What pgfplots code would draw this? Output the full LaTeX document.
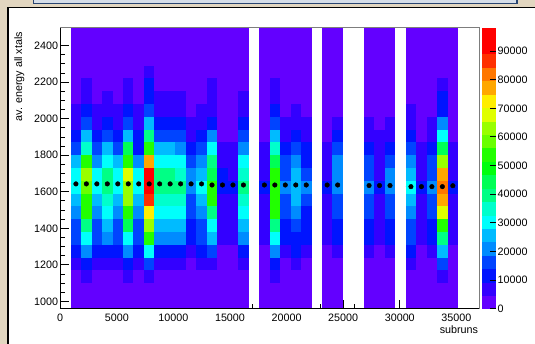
\documentclass[border=0pt]{standalone}
\usepackage{fontspec}
\setmainfont{Liberation Sans}
\usepackage{pgfplots}
\usepackage{pgfplotstable}
\pgfplotsset{compat=1.18}

\definecolor{bgbeige}{RGB}{226,214,192}
\definecolor{barfill}{RGB}{213,221,232}
\definecolor{barnavy}{RGB}{40,68,112}
\definecolor{framegray}{RGB}{125,125,125}

% one histogram bin (925 subruns x 70 energy units at this axis scale)
\pgfdeclareplotmark{binrect}{%
  \pgfpathrectangle{\pgfpoint{-5.27bp}{-6.43bp}}{\pgfpoint{10.54bp}{12.86bp}}%
  \pgfusepathqfill}

% ROOT "pretty" palette, 20 contour levels (last entry closes the top interval)
\pgfplotsset{
  colormap={rootpretty}{
    rgb255=(99,0,255) rgb255=(51,0,255) rgb255=(0,20,255) rgb255=(0,68,255)
    rgb255=(0,139,255) rgb255=(0,187,255) rgb255=(0,255,252) rgb255=(0,255,204)
    rgb255=(0,255,133) rgb255=(0,255,85) rgb255=(0,255,14) rgb255=(34,255,0)
    rgb255=(105,255,0) rgb255=(153,255,0) rgb255=(224,255,0) rgb255=(255,238,0)
    rgb255=(255,167,0) rgb255=(255,119,0) rgb255=(255,48,0) rgb255=(255,0,0)
    rgb255=(255,0,0)
  },
  every axis/.append style={font=\fontsize{10.8}{13}\selectfont},
  /pgf/number format/.cd, 1000 sep={}, assume math mode=true,
}

% energy per (subrun bin, energy bin): x = bin centre, y = bin centre, c = entries
\pgfplotstableread{
x y c
1387.5 995 1200
1387.5 1065 1200
1387.5 1135 1200
1387.5 1205 7400
1387.5 1275 12300
1387.5 1345 17200
1387.5 1415 17200
1387.5 1485 22100
1387.5 1555 27000
1387.5 1625 32000
1387.5 1695 32000
1387.5 1765 27000
1387.5 1835 17200
1387.5 1905 12300
1387.5 1975 7400
1387.5 2045 7400
1387.5 2115 1200
1387.5 2185 1200
1387.5 2255 1200
1387.5 2325 1200
1387.5 2395 1200
1387.5 2465 1200
2312.5 995 1200
2312.5 1065 1200
2312.5 1135 7400
2312.5 1205 12300
2312.5 1275 22100
2312.5 1345 32000
2312.5 1415 41800
2312.5 1485 51600
2312.5 1555 51600
2312.5 1625 56500
2312.5 1695 61400
2312.5 1765 51600
2312.5 1835 36900
2312.5 1905 27000
2312.5 1975 17200
2312.5 2045 12300
2312.5 2115 7400
2312.5 2185 7400
2312.5 2255 1200
2312.5 2325 1200
2312.5 2395 1200
2312.5 2465 1200
3237.5 995 1200
3237.5 1065 1200
3237.5 1135 1200
3237.5 1205 7400
3237.5 1275 12300
3237.5 1345 17200
3237.5 1415 17200
3237.5 1485 22100
3237.5 1555 27000
3237.5 1625 32000
3237.5 1695 32000
3237.5 1765 22100
3237.5 1835 17200
3237.5 1905 12300
3237.5 1975 7400
3237.5 2045 7400
3237.5 2115 1200
3237.5 2185 1200
3237.5 2255 1200
3237.5 2325 1200
3237.5 2395 1200
3237.5 2465 1200
4162.5 995 1200
4162.5 1065 1200
4162.5 1135 1200
4162.5 1205 7400
4162.5 1275 12300
4162.5 1345 22100
4162.5 1415 27000
4162.5 1485 32000
4162.5 1555 36900
4162.5 1625 41800
4162.5 1695 41800
4162.5 1765 32000
4162.5 1835 27000
4162.5 1905 17200
4162.5 1975 12300
4162.5 2045 7400
4162.5 2115 7400
4162.5 2185 1200
4162.5 2255 1200
4162.5 2325 1200
4162.5 2395 1200
4162.5 2465 1200
5087.5 995 1200
5087.5 1065 1200
5087.5 1135 1200
5087.5 1205 7400
5087.5 1275 12300
5087.5 1345 17200
5087.5 1415 17200
5087.5 1485 22100
5087.5 1555 27000
5087.5 1625 32000
5087.5 1695 32000
5087.5 1765 27000
5087.5 1835 17200
5087.5 1905 12300
5087.5 1975 7400
5087.5 2045 7400
5087.5 2115 1200
5087.5 2185 1200
5087.5 2255 1200
5087.5 2325 1200
5087.5 2395 1200
5087.5 2465 1200
6012.5 995 1200
6012.5 1065 1200
6012.5 1135 7400
6012.5 1205 12300
6012.5 1275 22100
6012.5 1345 32000
6012.5 1415 46700
6012.5 1485 51600
6012.5 1555 61400
6012.5 1625 61400
6012.5 1695 66400
6012.5 1765 51600
6012.5 1835 46700
6012.5 1905 27000
6012.5 1975 17200
6012.5 2045 12300
6012.5 2115 7400
6012.5 2185 7400
6012.5 2255 1200
6012.5 2325 1200
6012.5 2395 1200
6012.5 2465 1200
6937.5 995 1200
6937.5 1065 1200
6937.5 1135 1200
6937.5 1205 7400
6937.5 1275 12300
6937.5 1345 17200
6937.5 1415 17200
6937.5 1485 22100
6937.5 1555 27000
6937.5 1625 32000
6937.5 1695 32000
6937.5 1765 22100
6937.5 1835 12300
6937.5 1905 12300
6937.5 1975 7400
6937.5 2045 7400
6937.5 2115 1200
6937.5 2185 1200
6937.5 2255 1200
6937.5 2325 1200
6937.5 2395 1200
6937.5 2465 1200
7862.5 995 1200
7862.5 1065 1200
7862.5 1135 7400
7862.5 1205 17200
7862.5 1275 32000
7862.5 1345 51600
7862.5 1415 61400
7862.5 1485 71300
7862.5 1555 86000
7862.5 1625 98300
7862.5 1695 90900
7862.5 1765 76200
7862.5 1835 51600
7862.5 1905 41800
7862.5 1975 27000
7862.5 2045 17200
7862.5 2115 12300
7862.5 2185 12300
7862.5 2255 7400
7862.5 2325 1200
7862.5 2395 1200
7862.5 2465 1200
8787.5 995 1200
8787.5 1065 1200
8787.5 1135 1200
8787.5 1205 7400
8787.5 1275 12300
8787.5 1345 22100
8787.5 1415 27000
8787.5 1485 32000
8787.5 1555 36900
8787.5 1625 41800
8787.5 1695 41800
8787.5 1765 32000
8787.5 1835 27000
8787.5 1905 17200
8787.5 1975 12300
8787.5 2045 7400
8787.5 2115 7400
8787.5 2185 1200
8787.5 2255 1200
8787.5 2325 1200
8787.5 2395 1200
8787.5 2465 1200
9712.5 995 1200
9712.5 1065 1200
9712.5 1135 1200
9712.5 1205 7400
9712.5 1275 12300
9712.5 1345 22100
9712.5 1415 27000
9712.5 1485 32000
9712.5 1555 36900
9712.5 1625 41800
9712.5 1695 41800
9712.5 1765 32000
9712.5 1835 27000
9712.5 1905 17200
9712.5 1975 12300
9712.5 2045 7400
9712.5 2115 7400
9712.5 2185 1200
9712.5 2255 1200
9712.5 2325 1200
9712.5 2395 1200
9712.5 2465 1200
10637.5 995 1200
10637.5 1065 1200
10637.5 1135 1200
10637.5 1205 7400
10637.5 1275 12300
10637.5 1345 22100
10637.5 1415 27000
10637.5 1485 32000
10637.5 1555 36900
10637.5 1625 41800
10637.5 1695 36900
10637.5 1765 32000
10637.5 1835 22100
10637.5 1905 17200
10637.5 1975 12300
10637.5 2045 7400
10637.5 2115 7400
10637.5 2185 1200
10637.5 2255 1200
10637.5 2325 1200
10637.5 2395 1200
10637.5 2465 1200
11562.5 995 1200
11562.5 1065 1200
11562.5 1135 1200
11562.5 1205 1200
11562.5 1275 7400
11562.5 1345 12300
11562.5 1415 12300
11562.5 1485 17200
11562.5 1555 17200
11562.5 1625 22100
11562.5 1695 22100
11562.5 1765 17200
11562.5 1835 12300
11562.5 1905 7400
11562.5 1975 7400
11562.5 2045 1200
11562.5 2115 1200
11562.5 2185 1200
11562.5 2255 1200
11562.5 2325 1200
11562.5 2395 1200
11562.5 2465 1200
12487.5 995 1200
12487.5 1065 1200
12487.5 1135 1200
12487.5 1205 7400
12487.5 1275 12300
12487.5 1345 17200
12487.5 1415 17200
12487.5 1485 22100
12487.5 1555 27000
12487.5 1625 32000
12487.5 1695 27000
12487.5 1765 22100
12487.5 1835 17200
12487.5 1905 12300
12487.5 1975 7400
12487.5 2045 7400
12487.5 2115 1200
12487.5 2185 1200
12487.5 2255 1200
12487.5 2325 1200
12487.5 2395 1200
12487.5 2465 1200
13412.5 995 1200
13412.5 1065 1200
13412.5 1135 1200
13412.5 1205 7400
13412.5 1275 17200
13412.5 1345 27000
13412.5 1415 32000
13412.5 1485 41800
13412.5 1555 51600
13412.5 1625 51600
13412.5 1695 46700
13412.5 1765 41800
13412.5 1835 32000
13412.5 1905 22100
13412.5 1975 12300
13412.5 2045 7400
13412.5 2115 7400
13412.5 2185 7400
13412.5 2255 1200
13412.5 2325 1200
13412.5 2395 1200
13412.5 2465 1200
14337.5 995 1200
14337.5 1065 1200
14337.5 1135 1200
14337.5 1205 1200
14337.5 1275 1200
14337.5 1345 7400
14337.5 1415 7400
14337.5 1485 7400
14337.5 1555 7400
14337.5 1625 12300
14337.5 1695 12300
14337.5 1765 7400
14337.5 1835 7400
14337.5 1905 1200
14337.5 1975 1200
14337.5 2045 1200
14337.5 2115 1200
14337.5 2185 1200
14337.5 2255 1200
14337.5 2325 1200
14337.5 2395 1200
14337.5 2465 1200
15262.5 995 1200
15262.5 1065 1200
15262.5 1135 1200
15262.5 1205 1200
15262.5 1275 1200
15262.5 1345 7400
15262.5 1415 7400
15262.5 1485 7400
15262.5 1555 7400
15262.5 1625 12300
15262.5 1695 7400
15262.5 1765 7400
15262.5 1835 7400
15262.5 1905 1200
15262.5 1975 1200
15262.5 2045 1200
15262.5 2115 1200
15262.5 2185 1200
15262.5 2255 1200
15262.5 2325 1200
15262.5 2395 1200
15262.5 2465 1200
16187.5 995 1200
16187.5 1065 1200
16187.5 1135 1200
16187.5 1205 7400
16187.5 1275 12300
16187.5 1345 22100
16187.5 1415 27000
16187.5 1485 32000
16187.5 1555 36900
16187.5 1625 41800
16187.5 1695 36900
16187.5 1765 32000
16187.5 1835 22100
16187.5 1905 17200
16187.5 1975 12300
16187.5 2045 7400
16187.5 2115 7400
16187.5 2185 1200
16187.5 2255 1200
16187.5 2325 1200
16187.5 2395 1200
16187.5 2465 1200
}\blockA

\pgfplotstableread{
x y c
18037.5 995 1200
18037.5 1065 1200
18037.5 1135 1200
18037.5 1205 1200
18037.5 1275 1200
18037.5 1345 7400
18037.5 1415 7400
18037.5 1485 7400
18037.5 1555 7400
18037.5 1625 12300
18037.5 1695 7400
18037.5 1765 7400
18037.5 1835 7400
18037.5 1905 1200
18037.5 1975 1200
18037.5 2045 1200
18037.5 2115 1200
18037.5 2185 1200
18037.5 2255 1200
18037.5 2325 1200
18037.5 2395 1200
18037.5 2465 1200
18962.5 995 1200
18962.5 1065 1200
18962.5 1135 7400
18962.5 1205 12300
18962.5 1275 22100
18962.5 1345 32000
18962.5 1415 41800
18962.5 1485 51600
18962.5 1555 51600
18962.5 1625 51600
18962.5 1695 51600
18962.5 1765 46700
18962.5 1835 36900
18962.5 1905 27000
18962.5 1975 17200
18962.5 2045 12300
18962.5 2115 7400
18962.5 2185 7400
18962.5 2255 1200
18962.5 2325 1200
18962.5 2395 1200
18962.5 2465 1200
19887.5 995 1200
19887.5 1065 1200
19887.5 1135 1200
19887.5 1205 1200
19887.5 1275 7400
19887.5 1345 12300
19887.5 1415 12300
19887.5 1485 17200
19887.5 1555 17200
19887.5 1625 22100
19887.5 1695 17200
19887.5 1765 17200
19887.5 1835 12300
19887.5 1905 7400
19887.5 1975 7400
19887.5 2045 1200
19887.5 2115 1200
19887.5 2185 1200
19887.5 2255 1200
19887.5 2325 1200
19887.5 2395 1200
19887.5 2465 1200
20812.5 995 1200
20812.5 1065 1200
20812.5 1135 1200
20812.5 1205 7400
20812.5 1275 12300
20812.5 1345 12300
20812.5 1415 17200
20812.5 1485 22100
20812.5 1555 27000
20812.5 1625 27000
20812.5 1695 27000
20812.5 1765 22100
20812.5 1835 17200
20812.5 1905 12300
20812.5 1975 7400
20812.5 2045 7400
20812.5 2115 1200
20812.5 2185 1200
20812.5 2255 1200
20812.5 2325 1200
20812.5 2395 1200
20812.5 2465 1200
21737.5 995 1200
21737.5 1065 1200
21737.5 1135 1200
21737.5 1205 1200
21737.5 1275 7400
21737.5 1345 12300
21737.5 1415 12300
21737.5 1485 12300
21737.5 1555 17200
21737.5 1625 22100
21737.5 1695 17200
21737.5 1765 12300
21737.5 1835 12300
21737.5 1905 7400
21737.5 1975 7400
21737.5 2045 1200
21737.5 2115 1200
21737.5 2185 1200
21737.5 2255 1200
21737.5 2325 1200
21737.5 2395 1200
21737.5 2465 1200
}\blockB

\pgfplotstableread{
x y c
23587.5 995 1200
23587.5 1065 1200
23587.5 1135 1200
23587.5 1205 1200
23587.5 1275 1200
23587.5 1345 7400
23587.5 1415 7400
23587.5 1485 7400
23587.5 1555 7400
23587.5 1625 12300
23587.5 1695 7400
23587.5 1765 7400
23587.5 1835 7400
23587.5 1905 1200
23587.5 1975 1200
23587.5 2045 1200
23587.5 2115 1200
23587.5 2185 1200
23587.5 2255 1200
23587.5 2325 1200
23587.5 2395 1200
23587.5 2465 1200
24512.5 995 1200
24512.5 1065 1200
24512.5 1135 1200
24512.5 1205 1200
24512.5 1275 7400
24512.5 1345 12300
24512.5 1415 12300
24512.5 1485 17200
24512.5 1555 17200
24512.5 1625 22100
24512.5 1695 22100
24512.5 1765 22100
24512.5 1835 17200
24512.5 1905 12300
24512.5 1975 7400
24512.5 2045 1200
24512.5 2115 1200
24512.5 2185 1200
24512.5 2255 1200
24512.5 2325 1200
24512.5 2395 1200
24512.5 2465 1200
}\blockC

\pgfplotstableread{
x y c
27287.5 995 1200
27287.5 1065 1200
27287.5 1135 1200
27287.5 1205 1200
27287.5 1275 7400
27287.5 1345 12300
27287.5 1415 12300
27287.5 1485 17200
27287.5 1555 17200
27287.5 1625 22100
27287.5 1695 17200
27287.5 1765 17200
27287.5 1835 12300
27287.5 1905 7400
27287.5 1975 7400
27287.5 2045 1200
27287.5 2115 1200
27287.5 2185 1200
27287.5 2255 1200
27287.5 2325 1200
27287.5 2395 1200
27287.5 2465 1200
28212.5 995 1200
28212.5 1065 1200
28212.5 1135 1200
28212.5 1205 1200
28212.5 1275 1200
28212.5 1345 7400
28212.5 1415 7400
28212.5 1485 7400
28212.5 1555 7400
28212.5 1625 12300
28212.5 1695 7400
28212.5 1765 7400
28212.5 1835 7400
28212.5 1905 7400
28212.5 1975 1200
28212.5 2045 1200
28212.5 2115 1200
28212.5 2185 1200
28212.5 2255 1200
28212.5 2325 1200
28212.5 2395 1200
28212.5 2465 1200
29137.5 995 1200
29137.5 1065 1200
29137.5 1135 1200
29137.5 1205 1200
29137.5 1275 7400
29137.5 1345 12300
29137.5 1415 12300
29137.5 1485 17200
29137.5 1555 17200
29137.5 1625 22100
29137.5 1695 22100
29137.5 1765 17200
29137.5 1835 12300
29137.5 1905 7400
29137.5 1975 7400
29137.5 2045 1200
29137.5 2115 1200
29137.5 2185 1200
29137.5 2255 1200
29137.5 2325 1200
29137.5 2395 1200
29137.5 2465 1200
}\blockD

\pgfplotstableread{
x y c
30987.5 995 1200
30987.5 1065 1200
30987.5 1135 1200
30987.5 1205 7400
30987.5 1275 12300
30987.5 1345 17200
30987.5 1415 17200
30987.5 1485 22100
30987.5 1555 27000
30987.5 1625 32000
30987.5 1695 27000
30987.5 1765 22100
30987.5 1835 17200
30987.5 1905 12300
30987.5 1975 7400
30987.5 2045 7400
30987.5 2115 1200
30987.5 2185 1200
30987.5 2255 1200
30987.5 2325 1200
30987.5 2395 1200
30987.5 2465 1200
31912.5 995 1200
31912.5 1065 1200
31912.5 1135 1200
31912.5 1205 1200
31912.5 1275 1200
31912.5 1345 7400
31912.5 1415 7400
31912.5 1485 7400
31912.5 1555 7400
31912.5 1625 12300
31912.5 1695 7400
31912.5 1765 7400
31912.5 1835 7400
31912.5 1905 1200
31912.5 1975 1200
31912.5 2045 1200
31912.5 2115 1200
31912.5 2185 1200
31912.5 2255 1200
31912.5 2325 1200
31912.5 2395 1200
31912.5 2465 1200
32837.5 995 1200
32837.5 1065 1200
32837.5 1135 1200
32837.5 1205 1200
32837.5 1275 7400
32837.5 1345 12300
32837.5 1415 12300
32837.5 1485 17200
32837.5 1555 17200
32837.5 1625 22100
32837.5 1695 17200
32837.5 1765 17200
32837.5 1835 12300
32837.5 1905 7400
32837.5 1975 7400
32837.5 2045 1200
32837.5 2115 1200
32837.5 2185 1200
32837.5 2255 1200
32837.5 2325 1200
32837.5 2395 1200
32837.5 2465 1200
33762.5 995 1200
33762.5 1065 1200
33762.5 1135 7400
33762.5 1205 17200
33762.5 1275 27000
33762.5 1345 41800
33762.5 1415 51600
33762.5 1485 66400
33762.5 1555 76200
33762.5 1625 81100
33762.5 1695 76200
33762.5 1765 61400
33762.5 1835 46700
33762.5 1905 32000
33762.5 1975 22100
33762.5 2045 12300
33762.5 2115 12300
33762.5 2185 7400
33762.5 2255 1200
33762.5 2325 1200
33762.5 2395 1200
33762.5 2465 1200
34687.5 995 1200
34687.5 1065 1200
34687.5 1135 1200
34687.5 1205 1200
34687.5 1275 1200
34687.5 1345 7400
34687.5 1415 7400
34687.5 1485 7400
34687.5 1555 7400
34687.5 1625 12300
34687.5 1695 7400
34687.5 1765 7400
34687.5 1835 7400
34687.5 1905 1200
34687.5 1975 1200
34687.5 2045 1200
34687.5 2115 1200
34687.5 2185 1200
34687.5 2255 1200
34687.5 2325 1200
34687.5 2395 1200
34687.5 2465 1200
}\blockE

% profile: mean energy per subrun bin
\pgfplotstableread{
x y
1387.5 1643
2312.5 1643
3237.5 1643
4162.5 1643
5087.5 1643
6012.5 1643
6937.5 1643
7862.5 1643
8787.5 1643
9712.5 1643
10637.5 1643
11562.5 1643
12487.5 1643
13412.5 1637
14337.5 1637
15262.5 1637
16187.5 1637
18037.5 1637
18962.5 1637
19887.5 1637
20812.5 1637
21737.5 1637
23587.5 1637
24512.5 1637
27287.5 1634
28212.5 1634
29137.5 1634
30987.5 1628
31912.5 1628
32837.5 1628
33762.5 1628
34687.5 1633
}\profile

% profile bin widths: horizontal bars from bin edge to bin edge at the bin mean
\pgfplotstableread{
x y
925 1643
12950 1643
nan nan
12950 1637
16650 1637
nan nan
17575 1637
22200 1637
nan nan
23125 1637
24975 1637
nan nan
26825 1634
29600 1634
nan nan
30525 1628
34225 1628
nan nan
34225 1633
35150 1633
}\profilebars

\begin{document}
\begin{tikzpicture}
\path[use as bounding box] (0,0) rectangle (535bp,344bp);
% page background and canvas
\fill[bgbeige] (0,0) rectangle (535bp,344bp);
\fill[white] (8bp,-2bp) rectangle (537bp,336.7bp);
\draw[black, line width=1.5bp] (8bp,-2bp) -- (8bp,336.7bp) -- (537bp,336.7bp);
\filldraw[fill=barfill, draw=barnavy, line width=1.3bp] (33.8bp,340.6bp) rectangle (517bp,347bp);

\begin{axis}[
  at={(60.2bp,35.3bp)}, anchor=south west,
  scale only axis, width=418.8bp, height=281.4bp,
  xmin=0, xmax=37000, ymin=960, ymax=2500,
  clip=false, axis on top,
  axis line style={draw=none},
  xtick={0,5000,...,35000}, minor x tick num=4,
  ytick={1000,1200,...,2400}, minor y tick num=3,
  xtick pos=left, ytick pos=left,
  tick align=inside,
  major tick length=9bp, minor tick length=4.5bp,
  tick style={black, line width=0.8bp},
  scaled ticks=false,
  xticklabel style={inner sep=0pt, yshift=-5.4bp},
  yticklabel style={inner sep=0pt, xshift=-2bp},
  xlabel={subruns},
  xlabel style={at={(axis description cs:0.9983,-0.0881)}, anchor=base east, inner sep=0pt},
  ylabel={av. energy all xtals},
  ylabel style={at={(axis description cs:-0.0852,0.9844)}, anchor=south east, inner sep=0pt},
  colormap name=rootpretty,
  colormap access=piecewise constant,
  point meta min=0, point meta max=98300,
  colorbar,
  colorbar shift/.style={xshift=3bp},
  colorbar style={
    at={(parent axis.south east)}, anchor=south west,
    scale only axis, width=14bp, height=281.4bp,
    ytick={0,10000,...,90000},
    scaled y ticks=false,
    ytick pos=right,
    tick align=inside,
    major tick length=6.5bp,
    tick style={black, line width=0.9bp},
    axis line style={draw=none},
    yticklabel style={inner sep=0pt, xshift=1.5bp},
  },
  after end axis/.code={
    \draw[black, line width=0.9bp] (rel axis cs:0,1) -- (rel axis cs:0,0) -- (rel axis cs:1,0);
    \draw[framegray, line width=0.6bp] (rel axis cs:0,1) -- (rel axis cs:1,1) -- (rel axis cs:1,0);
  },
]
\addplot[scatter, only marks, mark=binrect, point meta=explicit] table[x=x, y=y, meta=c] {\blockA};
\addplot[scatter, only marks, mark=binrect, point meta=explicit] table[x=x, y=y, meta=c] {\blockB};
\addplot[scatter, only marks, mark=binrect, point meta=explicit] table[x=x, y=y, meta=c] {\blockC};
\addplot[scatter, only marks, mark=binrect, point meta=explicit] table[x=x, y=y, meta=c] {\blockD};
\addplot[scatter, only marks, mark=binrect, point meta=explicit] table[x=x, y=y, meta=c] {\blockE};
\addplot[black, line width=1.3bp, mark=none, unbounded coords=jump] table[x=x, y=y] {\profilebars};
\addplot[black, only marks, mark=*, mark size=2.3bp, mark options={fill=black, draw=black}]
  table[x=x, y=y] {\profile};
\end{axis}
\end{tikzpicture}
\end{document}
